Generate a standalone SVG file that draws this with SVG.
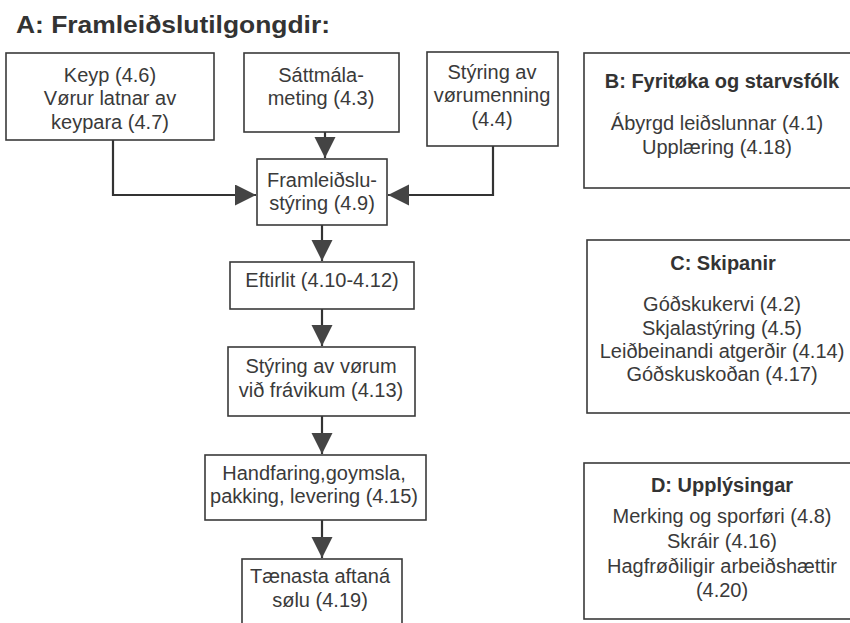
<svg xmlns="http://www.w3.org/2000/svg" width="850" height="623" viewBox="0 0 850 623">
<style>
.box{fill:#fff;stroke:#3a3a3a;stroke-width:1.6}
.t{font-family:"Liberation Sans",Arial,sans-serif;font-size:20px;fill:#3a3a3a;text-anchor:middle}
.h{font-family:"Liberation Sans",Arial,sans-serif;font-size:20px;font-weight:bold;fill:#333;text-anchor:middle}
.title{font-family:"Liberation Sans",Arial,sans-serif;font-size:23px;font-weight:bold;fill:#333}
.c{fill:none;stroke:#333;stroke-width:2.2}
</style>
<defs>
<marker id="arr" markerUnits="userSpaceOnUse" markerWidth="22" markerHeight="22" refX="21" refY="10.5" orient="auto">
<path d="M0,0 L21,10.5 L0,21 z" fill="#444"/>
</marker>
</defs>
<rect width="850" height="623" fill="#fff"/>
<text class="title" x="16" y="33" textLength="314" lengthAdjust="spacingAndGlyphs">A: Framleiðslutilgongdir:</text>

<g id="connectors">
<path class="c" d="M113,140 V195 H256" marker-end="url(#arr)"/>
<path class="c" d="M325,132 V158" marker-end="url(#arr)"/>
<path class="c" d="M493,146 V195 H388" marker-end="url(#arr)"/>
<path class="c" d="M322,225 V261" marker-end="url(#arr)"/>
<path class="c" d="M322,309 V346" marker-end="url(#arr)"/>
<path class="c" d="M322,416 V454" marker-end="url(#arr)"/>
<path class="c" d="M322,520 V558" marker-end="url(#arr)"/>
</g>

<g id="keyp">
<rect class="box" x="6" y="53" width="208" height="87"/>
<text class="t" x="110" y="82">Keyp (4.6)</text>
<text class="t" x="110" y="105">Vørur latnar av</text>
<text class="t" x="110" y="129">keypara (4.7)</text>
</g>
<g id="sattmala">
<rect class="box" x="244" y="53" width="155" height="79"/>
<text class="t" x="321" y="82">Sáttmála-</text>
<text class="t" x="321" y="105">meting (4.3)</text>
</g>
<g id="styring-vorumenning">
<rect class="box" x="427" y="52" width="131" height="94"/>
<text class="t" x="492" y="79">Stýring av</text>
<text class="t" x="492" y="102">vørumenning</text>
<text class="t" x="492" y="126">(4.4)</text>
</g>
<g id="framleidslustyring">
<rect class="box" x="257" y="159" width="130" height="66"/>
<text class="t" x="322" y="187">Framleiðslu-</text>
<text class="t" x="322" y="210">stýring (4.9)</text>
</g>
<g id="eftirlit">
<rect class="box" x="230" y="262" width="184" height="47"/>
<text class="t" x="322" y="287">Eftirlit (4.10-4.12)</text>
</g>
<g id="styring-vorum">
<rect class="box" x="228" y="347" width="187" height="69"/>
<text class="t" x="321" y="373">Stýring av vørum</text>
<text class="t" x="321" y="397">við frávikum (4.13)</text>
</g>
<g id="handfaring">
<rect class="box" x="205" y="455" width="221" height="65"/>
<text class="t" x="314" y="480">Handfaring,goymsla,</text>
<text class="t" x="314" y="503">pakking, levering (4.15)</text>
</g>
<g id="taenasta">
<rect class="box" x="242" y="559" width="160" height="70"/>
<text class="t" x="320" y="583">Tænasta aftaná</text>
<text class="t" x="320" y="607">sølu (4.19)</text>
</g>

<g id="box-b">
<rect class="box" x="584" y="53" width="275" height="135"/>
<text class="h" x="722" y="88">B: Fyritøka og starvsfólk</text>
<text class="t" x="717" y="130">Ábyrgd leiðslunnar (4.1)</text>
<text class="t" x="717" y="154">Upplæring (4.18)</text>
</g>
<g id="box-c">
<rect class="box" x="587" y="240" width="272" height="173"/>
<text class="h" x="723" y="270">C: Skipanir</text>
<text class="t" x="722" y="311">Góðskukervi (4.2)</text>
<text class="t" x="722" y="335">Skjalastýring (4.5)</text>
<text class="t" x="722" y="358">Leiðbeinandi atgerðir (4.14)</text>
<text class="t" x="722" y="381">Góðskuskoðan (4.17)</text>
</g>
<g id="box-d">
<rect class="box" x="584" y="463" width="275" height="156"/>
<text class="h" x="722" y="492">D: Upplýsingar</text>
<text class="t" x="722" y="523">Merking og sporføri (4.8)</text>
<text class="t" x="722" y="548">Skráir (4.16)</text>
<text class="t" x="722" y="573">Hagfrøðiligir arbeiðshættir</text>
<text class="t" x="722" y="597">(4.20)</text>
</g>
</svg>
